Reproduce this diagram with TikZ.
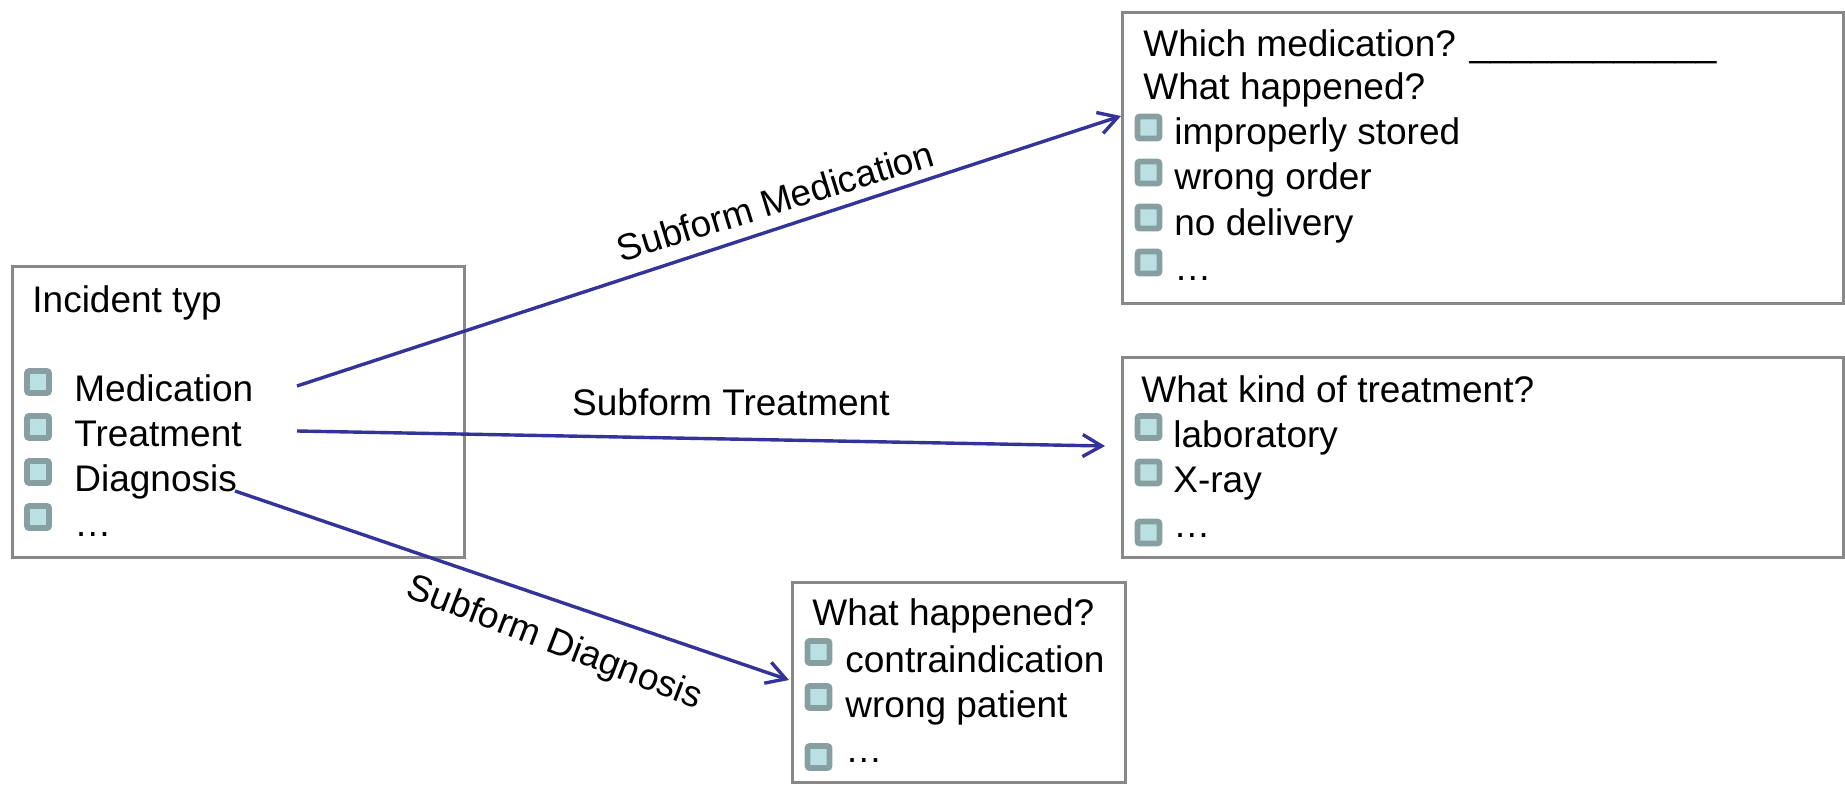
\documentclass[tikz,border=0pt]{standalone}
\usepackage{fontspec}
\setmainfont{Liberation Sans}
\usetikzlibrary{arrows.meta}
\definecolor{framegray}{HTML}{888888}
\definecolor{arrowblue}{HTML}{333399}
\definecolor{chkedge}{HTML}{879FA1}
\definecolor{chkfill}{HTML}{BBE0E3}
\begin{document}
\begin{tikzpicture}[x=0.5pt, y=-0.5pt,
  formbox/.style={draw=framegray, line width=1.4pt, anchor=north west, inner sep=0pt},
  chk/.style={draw=chkedge, fill=chkfill, line width=2.8pt, rounded corners=1pt, minimum size=11pt, inner sep=0pt},
  txt/.style={anchor=base west, inner sep=0pt, font=\fontsize{18.5pt}{22pt}\selectfont},
  link/.style={draw=arrowblue, line width=1.7pt, -{Straight Barb[length=9.5pt,width=11pt]}},
  lbl/.style={font=\fontsize{18.5pt}{22pt}\selectfont, text=black, inner xsep=0pt}
]
\useasboundingbox (0,0) rectangle (1845,786);

% ---- boxes
\node[formbox, minimum width=226pt, minimum height=145.5pt] (incbox) at (11,265) {};
\node[formbox, minimum width=360.5pt, minimum height=145.5pt] (medbox) at (1121,11) {};
\node[formbox, minimum width=360.5pt, minimum height=100pt] (trtbox) at (1121,356) {};
\node[formbox, minimum width=166.5pt, minimum height=100pt] (diabox) at (791,581) {};

% ---- incident box
\node[txt] (inchead) at (32,312) {Incident typ};
\node[chk] (icb1) at (38,382) {};
\node[chk] (icb2) at (38,427) {};
\node[chk] (icb3) at (38,472) {};
\node[chk] (icb4) at (38,517) {};
\node[txt] (imed) at (74,401) {Medication};
\node[txt] (itrt) at (74,446) {Treatment};
\node[txt] (idia) at (74,491) {Diagnosis};
\node[txt] (idots) at (74,536) {…};

% ---- medication box
\node[txt] (mhead1) at (1143,57) {Which medication? \_\_\_\_\_\_\_\_\_\_\_\_};
\node[txt] (mhead2) at (1143,100) {What happened?};
\node[chk] (mcb1) at (1148.5,127.5) {};
\node[chk] (mcb2) at (1148.5,172.5) {};
\node[chk] (mcb3) at (1148.5,217.5) {};
\node[chk] (mcb4) at (1148.5,262.5) {};
\node[txt] (mit1) at (1174,145) {improperly stored};
\node[txt] (mit2) at (1174,190) {wrong order};
\node[txt] (mit3) at (1174,235) {no delivery};
\node[txt] (mit4) at (1174,280) {…};

% ---- treatment box
\node[txt] (thead) at (1141,402) {What kind of treatment?};
\node[chk] (tcb1) at (1148.5,427) {};
\node[chk] (tcb2) at (1148.5,472.5) {};
\node[chk] (tcb3) at (1148.5,532.5) {};
\node[txt] (tit1) at (1173,447) {laboratory};
\node[txt] (tit2) at (1173,492) {X-ray};
\node[txt] (tit3) at (1173,537) {…};

% ---- diagnosis box
\node[txt] (dhead) at (812,625) {What happened?};
\node[chk] (dcb1) at (818.5,652) {};
\node[chk] (dcb2) at (818.5,697) {};
\node[chk] (dcb3) at (818.5,757) {};
\node[txt] (dit1) at (845,672) {contraindication};
\node[txt] (dit2) at (845,717) {wrong patient};
\node[txt] (dit3) at (845,762) {…};

% ---- connectors
\coordinate (medout) at (297,386);
\coordinate (medin) at (1121,116);
\coordinate (trtout) at (297,431);
\coordinate (trtin) at (1105,446);
\coordinate (diaout) at (235,491);
\coordinate (diain) at (789,680);

\draw[link] (medout) -- node[lbl, sloped, above, inner ysep=5.8pt, pos=0.59, rotate=-1] (lblmed) {Subform Medication} (medin);
\draw[link] (trtout) -- node[lbl, pos=0.537, anchor=base, yshift=12pt] (lbltrt) {Subform Treatment} (trtin);
\draw[link] (diaout) -- node[lbl, sloped, below, inner ysep=11.3pt, pos=0.603, rotate=-2.2] (lbldia) {Subform Diagnosis} (diain);
\end{tikzpicture}
\end{document}
